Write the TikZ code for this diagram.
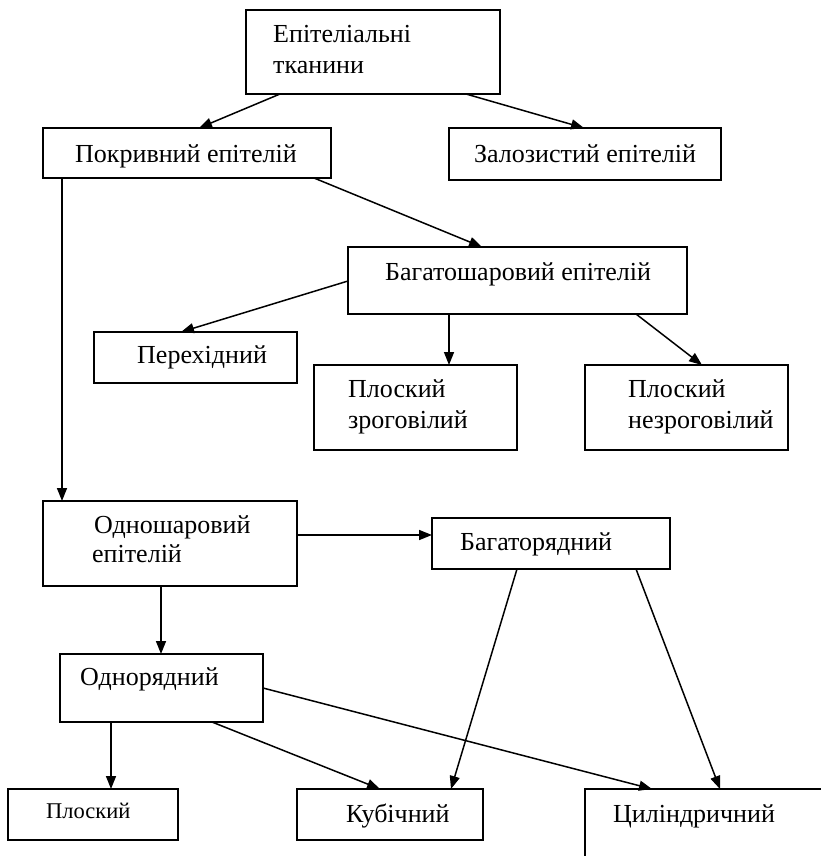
\documentclass[tikz,border=0pt]{standalone}
\usepackage{fontspec}
\setmainfont{Liberation Serif}
\usetikzlibrary{arrows.meta,calc}
\begin{document}
\begin{tikzpicture}[x=1pt,y=-1pt,
  box/.style={draw, line width=1.5pt, inner sep=0pt, outer sep=0pt, anchor=north west},
  lbl/.style={anchor=base west, inner sep=0pt, font=\fontsize{26}{33}\selectfont},
  lbls/.style={anchor=base west, inner sep=0pt, font=\fontsize{22.5}{28}\selectfont},
  conn/.style={line width=1.5pt, -{Triangle[length=13pt,width=10pt]}}]
\clip (0,0) rectangle (821,856);
\fill[white] (0,0) rectangle (821,856);
% boxes
\node[box, minimum width=254pt, minimum height=84pt] (top) at (246,10) {};
\node[box, minimum width=288pt, minimum height=50pt] (pokr) at (43,128) {};
\node[box, minimum width=272pt, minimum height=52pt] (zaloz) at (449,128) {};
\node[box, minimum width=339pt, minimum height=67pt] (bagsh) at (348,247) {};
\node[box, minimum width=203pt, minimum height=51pt] (perekh) at (94,332) {};
\node[box, minimum width=203pt, minimum height=85pt] (pzrog) at (314,365) {};
\node[box, minimum width=203pt, minimum height=85pt] (pnezrog) at (585,365) {};
\node[box, minimum width=254pt, minimum height=85pt] (odnosh) at (43,501) {};
\node[box, minimum width=238pt, minimum height=51pt] (bagr) at (432,518) {};
\node[box, minimum width=203pt, minimum height=68pt] (odnor) at (60,654) {};
\node[box, minimum width=170pt, minimum height=51pt] (plosk) at (8,789) {};
\node[box, minimum width=186pt, minimum height=51pt] (kub) at (297,789) {};
\node[box, minimum width=280pt, minimum height=120pt] (tsyl) at (585,789) {};
% labels
\node[lbl] (t1) at (273,43) {Епітеліальні};
\node[lbl] (t1b) at (273,74) {тканини};
\node[lbl] (t2) at (75,162) {Покривний епітелій};
\node[lbl] (t3) at (474,162) {Залозистий епітелій};
\node[lbl] (t4) at (385,280) {Багатошаровий епітелій};
\node[lbl] (t5) at (137,363) {Перехідний};
\node[lbl] (t6) at (348,397) {Плоский};
\node[lbl] (t6b) at (348,428) {зроговілий};
\node[lbl] (t7) at (628,397) {Плоский};
\node[lbl] (t7b) at (628,428) {незроговілий};
\node[lbl] (t8) at (94,533) {Одношаровий};
\node[lbl] (t8b) at (92,562) {епітелій};
\node[lbl] (t9) at (460,550) {Багаторядний};
\node[lbl] (t10) at (80,685) {Однорядний};
\node[lbls] (t11) at (46,818) {Плоский};
\node[lbl] (t12) at (346,822) {Кубічний};
\node[lbl] (t13) at (613,822) {Циліндричний};
% connectors
\draw[conn] ($(top.south west)+(34,0)$) -- ($(pokr.north west)+(156,0)$);
\draw[conn] ($(top.south west)+(220,0)$) -- ($(zaloz.north west)+(135,0)$);
\draw[conn] ($(pokr.south west)+(271,0)$) -- ($(bagsh.north west)+(134,0)$);
\draw[conn] ($(pokr.south west)+(19,0)$) -- ($(odnosh.north west)+(19,0)$);
\draw[conn] ($(bagsh.north west)+(0,34)$) -- ($(perekh.north west)+(87,0)$);
\draw[conn] ($(bagsh.south west)+(101,0)$) -- ($(pzrog.north west)+(135,0)$);
\draw[conn] ($(bagsh.south west)+(288,0)$) -- ($(pnezrog.north west)+(117,0)$);
\draw[conn] ($(odnosh.north east)+(0,34)$) -- ($(bagr.north west)+(0,17)$);
\draw[conn] ($(odnosh.south west)+(118,0)$) -- ($(odnor.north west)+(101,0)$);
\draw[conn] ($(bagr.south west)+(85,0)$) -- ($(kub.north west)+(154,0)$);
\draw[conn] ($(bagr.south west)+(204,0)$) -- ($(tsyl.north west)+(135,0)$);
\draw[conn] ($(odnor.south west)+(51,0)$) -- ($(plosk.north west)+(103,0)$);
\draw[conn] ($(odnor.south west)+(152,0)$) -- ($(kub.north west)+(83,0)$);
\draw[conn] ($(odnor.north east)+(0,34)$) -- ($(tsyl.north west)+(67,0)$);
\end{tikzpicture}
\end{document}
